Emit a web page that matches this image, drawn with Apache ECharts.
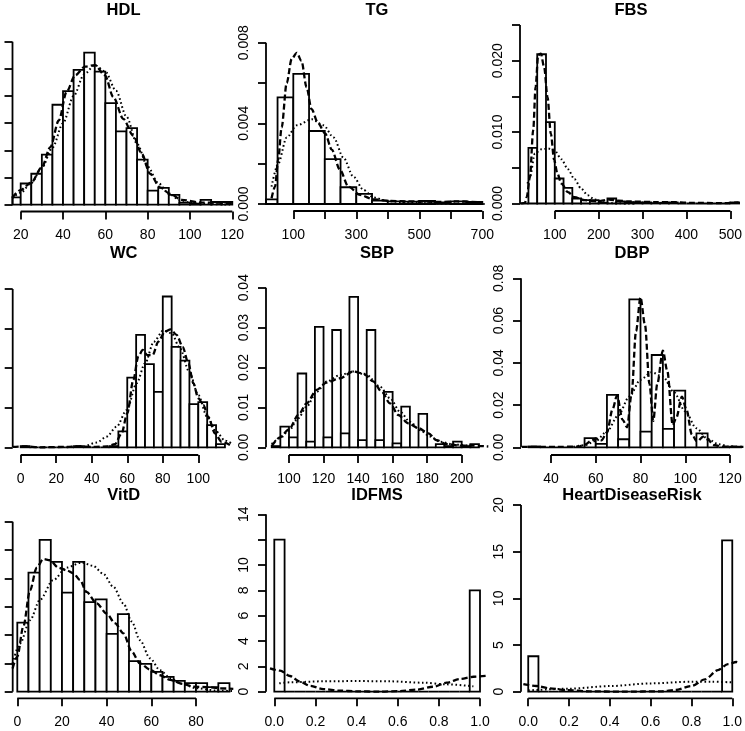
<!DOCTYPE html>
<html><head><meta charset="utf-8">
<script src="https://cdn.jsdelivr.net/npm/echarts@6/dist/echarts.min.js"></script>
<style>html,body{margin:0;padding:0;background:#fff}#c{width:745px;height:731px}</style>
</head><body><div id="c"></div>
<script>
// ---------------- DATA ----------------
// HDL
const hdlBreaks = [15,20,25,30,35,40,45,50,55,60,65,70,75,80,85,90,95,100,105,110,115,120];
const hdlDensity = [0.00135,0.0039,0.0057,0.0092,0.0184,0.0209,0.0248,0.0280,0.0245,0.0187,0.0135,0.0141,0.0083,0.0026,0.0031,0.0018,0.0004,0.0002,0.0009,0.0005,0.0005];
const hdlKde = [[16,0.0013],[20,0.0027],[25,0.0041],[30,0.0069],[34,0.0106],[38,0.0155],[41.7,0.0208],[45.7,0.0238],[50.4,0.0254],[55.1,0.0257],[59.8,0.0238],[63.8,0.0198],[68.5,0.0158],[73.2,0.0127],[77.2,0.0094],[81.1,0.0057],[85.8,0.0032],[90.6,0.0020],[96.1,0.0009],[104.7,0.0004],[112.6,0.0004],[120.5,0.0002]];
const hdlNormal = [[16,0.0012],[20,0.0022],[25,0.0040],[30,0.0068],[35,0.0105],[40,0.0150],[45,0.0200],[50,0.0240],[55,0.0257],[60,0.0245],[65,0.0210],[70,0.0162],[75,0.0112],[80,0.0070],[85,0.0040],[90,0.0020],[95,0.0009],[100,0.0004],[110,0.0001],[120,0.0]];
const hdlXTicks = [20,40,60,80,100,120];
const hdlYTicks = [0,0.005,0.01,0.015,0.02,0.025,0.03];
const hdlYLabels = [];

// TG
const tgBreaks = [0,50,100,150,200,250,300,350,400,450,500,550,600,650,700];
const tgDensity = [0.00023,0.00529,0.00645,0.00362,0.00223,0.00083,0.0005,0.00017,0.00013,0.00012,0.00015,0.00008,0.00013,0.0001];
const tgKde = [[31,0.00028],[42,0.00086],[52,0.0022],[63,0.0038],[79,0.0060],[95,0.0072],[111,0.0075],[126,0.0071],[142,0.0058],[158,0.0047],[179,0.0040],[201,0.0035],[222,0.0027],[248,0.0017],[275,0.00086],[312,0.00045],[354,0.00023],[407,0.00015],[460,0.00013],[513,0.00012],[566,0.0001],[619,0.00013],[700,0.00008]];
const tgNormal = [[31,0.00086],[52,0.0020],[79,0.0033],[111,0.0039],[159,0.0042],[196,0.0039],[228,0.0033],[259,0.0023],[291,0.00135],[323,0.0007],[354,0.00033],[397,0.00015],[460,0.00007],[566,0.00003],[714,0]];
const tgXTicks = [100,200,300,400,500,600,700];
const tgXLabels = [100,300,500,700];
const tgYTicks = [0,0.002,0.004,0.006,0.008];
const tgYLabels = [0,0.004,0.008];

// FBS
const fbsBreaks = [20,40,60,80,100,120,140,160,180,200,220,240,260,280,300,320,340,360,380,400,420,440,460,480,500,520];
const fbsDensity = [0,0.0078,0.0209,0.0114,0.0035,0.0022,0.0007,0.00046,0.00046,0.0001,0.0007,0.0003,0.0002,0.00015,0.00015,0.00005,0.0001,0.00015,0,0,0,0,0,0,0.00015];
const fbsKde = [[23,0],[32,0.0001],[36,0.0009],[43.4,0.0037],[50.9,0.0103],[56.3,0.0163],[62.2,0.0208],[68.3,0.0210],[75.8,0.0191],[83.5,0.0149],[91,0.0098],[98.5,0.0061],[106,0.0042],[115,0.0028],[130,0.0016],[145,0.0009],[168,0.00046],[198,0.0003],[224,0.00056],[245,0.0004],[270,0.00028],[330,0.0002],[368,0.0002],[406,0.0001],[481,0.00005],[519,0.00014]];
const fbsNormal = [[38,0.0028],[43.4,0.0037],[54.7,0.0070],[69.8,0.0076],[84.8,0.0077],[100,0.0074],[115,0.0062],[130,0.0048],[145,0.0034],[160,0.0021],[175,0.00116],[191,0.00056],[209,0.00018],[236,0.00003],[280,0]];
const fbsXTicks = [100,200,300,400,500];
const fbsYTicks = [0,0.005,0.01,0.015,0.02,0.025];
const fbsYLabels = [0,0.01,0.02];

// WC
const wcBreaks = [0,5,10,15,20,25,30,35,40,45,50,55,60,65,70,75,80,85,90,95,100,105,110,115];
const wcDensity = [0.0003,0,0,0,0,0,0.0003,0,0,0,0.0003,0.0040,0.0176,0.0284,0.0210,0.0140,0.0381,0.0254,0.0219,0.0109,0.0114,0.0056,0.0008];
const wcKde = [[-4.5,0.0001],[2.4,0.00025],[10.9,0],[25.9,0.0001],[32.5,0.00025],[40.9,0.0001],[48.4,0.0002],[53.1,0.0008],[56.8,0.0035],[60,0.0086],[63.4,0.0170],[66.2,0.0229],[68.7,0.0246],[71.3,0.0233],[74.3,0.0233],[77.5,0.0267],[81.2,0.0292],[84.4,0.0298],[87.8,0.0284],[91.2,0.0254],[94.4,0.0212],[97.2,0.0162],[100,0.0124],[102.8,0.0107],[105.6,0.0077],[109.4,0.0035],[113.1,0.0014],[117.8,0.0006]];
const wcNormal = [[25.9,0],[35.3,0.00025],[42.8,0.0012],[48.4,0.0027],[54,0.0052],[59.7,0.0094],[65.3,0.0162],[70,0.0212],[75,0.0267],[80.3,0.0295],[85,0.0288],[89.7,0.0250],[94.9,0.0191],[100,0.0132],[105,0.0077],[110,0.0040],[115,0.0017],[119.7,0.0007]];
const wcXTicks = [0,20,40,60,80,100];
const wcYTicks = [0,0.01,0.02,0.03,0.04];
const wcYLabels = [];

// SBP
const sbpBreaks = [90,95,100,105,110,115,120,125,130,135,140,145,150,155,160,165,170,175,180,185,190,195,200,205,210];
const sbpDensity = [0.0003,0.0052,0.0025,0.0185,0.0014,0.0302,0.0025,0.0294,0.0035,0.0377,0.0018,0.0294,0.0018,0.0139,0.0010,0.0102,0,0.0084,0,0.0008,0.0003,0.0014,0.0003,0.0008];
const sbpKde = [[90,0.0003],[94.8,0.0025],[100,0.0045],[105.4,0.0081],[110.2,0.0110],[116,0.0144],[121.8,0.0162],[129.5,0.0173],[137.3,0.0190],[143,0.0185],[148.8,0.0165],[153.7,0.0139],[158.5,0.0110],[163.3,0.0081],[169.1,0.0060],[174.9,0.0048],[180.7,0.0035],[185.5,0.0018],[191.3,0.0008],[199,0.0004],[206.8,0.0004],[215.4,0.0002]];
const sbpNormal = [[90,0.0008],[94.8,0.0023],[100,0.0042],[105.4,0.0073],[110.2,0.0102],[116,0.0139],[121.8,0.0165],[129.5,0.0181],[137.3,0.0190],[145,0.0181],[152.7,0.0152],[158.5,0.0123],[164.3,0.0089],[170,0.0064],[175.9,0.0043],[181.7,0.0027],[187.5,0.0014],[195.2,0.0007],[206.8,0.0003]];
const sbpXTicks = [100,120,140,160,180,200];
const sbpYTicks = [0,0.01,0.02,0.03,0.04];
const sbpYLabels = [0,0.01,0.02,0.03,0.04];

// DBP
const dbpBreaks = [30,35,40,45,50,55,60,65,70,75,80,85,90,95,100,105,110,115,120,125];
const dbpDensity = [0.0004,0,0,0,0,0.0043,0.0016,0.0248,0.0038,0.0700,0.0074,0.0437,0.0087,0.0268,0,0.0066,0,0,0.0003];
const dbpKde = [[27,0.0002],[42.5,0.0002],[52,0.0003],[55,0.0012],[58,0.003],[60,0.0042],[62.5,0.0033],[65,0.007],[67.5,0.018],[69.5,0.0245],[72,0.013],[74,0.0095],[76,0.025],[78,0.055],[80,0.0710],[82,0.058],[84,0.030],[85.7,0.0125],[87.5,0.030],[90,0.0458],[92,0.036],[94.4,0.0105],[96,0.014],[98.5,0.024],[100.5,0.018],[103,0.006],[105.2,0.0027],[108,0.005],[110,0.0038],[112.6,0.0011],[117,0.0003],[126,0.0002]];
const dbpNormal = [[50,0.0002],[55,0.0010],[60,0.0030],[65,0.0075],[70,0.0150],[75,0.0240],[80,0.0320],[85,0.0355],[90,0.0335],[95,0.0260],[100,0.0170],[105,0.0090],[110,0.0040],[115,0.0014],[120,0.0004],[125,0.0001]];
const dbpXTicks = [40,60,80,100,120];
const dbpYTicks = [0,0.02,0.04,0.06,0.08];
const dbpYLabels = [0,0.02,0.04,0.06,0.08];

// VitD
const vitdBreaks = [0,5,10,15,20,25,30,35,40,45,50,55,60,65,70,75,80,85,90,95];
const vitdDensity = [0.0122,0.0210,0.0268,0.0229,0.0175,0.0229,0.0158,0.0163,0.0102,0.0137,0.0054,0.0049,0.0035,0.0026,0.0019,0.0015,0.0015,0.0008,0.0015];
const vitdKde = [[-2.1,0.0041],[0,0.0062],[2.7,0.0115],[5.7,0.0179],[8.7,0.0219],[11.6,0.0234],[14.6,0.0232],[18.4,0.0219],[22.1,0.0214],[25.1,0.0209],[28.1,0.0197],[31,0.0176],[35.5,0.0156],[40,0.0138],[43.7,0.0121],[47.5,0.0103],[51.2,0.0071],[54.9,0.0050],[59.4,0.0039],[63.9,0.0029],[68.4,0.0021],[73.6,0.0014],[78.8,0.0009],[84.8,0.0008],[90.7,0.0006],[96.7,0.0005]];
const vitdNormal = [[-2.1,0.0050],[1.2,0.0085],[5.7,0.0126],[10.1,0.0162],[16.1,0.0197],[22.1,0.0219],[28.8,0.0228],[34,0.0222],[38.5,0.0208],[43,0.0185],[47.5,0.0156],[51.2,0.0124],[54.9,0.0091],[59.4,0.0059],[63.9,0.0038],[68.4,0.0024],[73.6,0.0014],[80.3,0.0006],[89.3,0.0002],[96.7,0.0001]];
const vitdXTicks = [0,20,40,60,80];
const vitdYTicks = [0,0.005,0.01,0.015,0.02,0.025,0.03];
const vitdYLabels = [];

// IDFMS
const idfmsBreaks = [0,0.05,0.1,0.15,0.2,0.25,0.3,0.35,0.4,0.45,0.5,0.55,0.6,0.65,0.7,0.75,0.8,0.85,0.9,0.95,1.0];
const idfmsDensity = [12,0,0,0,0,0,0,0,0,0,0,0,0,0,0,0,0,0,0,8];
const idfmsKde = [[-0.021,1.84],[0.028,1.66],[0.076,1.24],[0.125,0.79],[0.173,0.47],[0.238,0.21],[0.319,0.08],[0.4,0.03],[0.514,0],[0.611,0.05],[0.692,0.16],[0.773,0.39],[0.838,0.71],[0.903,1.0],[0.968,1.18],[1.04,1.26]];
const idfmsNormal = [[0.024,0.66],[0.076,0.74],[0.238,0.82],[0.4,0.84],[0.562,0.82],[0.724,0.71],[0.838,0.58],[0.968,0.42]];
const idfmsXTicks = [0,0.2,0.4,0.6,0.8,1.0];
const idfmsYTicks = [0,2,4,6,8,10,12,14];
const idfmsYLabels = [0,2,4,6,8,10,14];

// HeartDiseaseRisk
const hdrBreaks = [0,0.05,0.1,0.15,0.2,0.25,0.3,0.35,0.4,0.45,0.5,0.55,0.6,0.65,0.7,0.75,0.8,0.85,0.9,0.95,1.0];
const hdrDensity = [3.8,0,0,0,0,0,0,0,0,0,0,0,0,0,0,0,0,0,0,16.2];
const hdrKde = [[-0.024,0.82],[0.04,0.61],[0.105,0.36],[0.186,0.18],[0.3,0.04],[0.461,0],[0.655,0.04],[0.72,0.18],[0.8,0.61],[0.866,1.32],[0.93,2.32],[0.979,2.96],[1.02,3.18],[1.036,3.07]];
const hdrNormal = [[0,0.14],[0.2,0.32],[0.4,0.6],[0.6,0.89],[0.8,1.07],[0.9,1.07],[1.0,1.0]];
const hdrXTicks = [0,0.2,0.4,0.6,0.8,1.0];
const hdrYTicks = [0,5,10,15,20];
const hdrYLabels = [0,5,10,15,20];

// ---------------- PANELS ----------------
const panels = [
  {title:'HDL', breaks:hdlBreaks, dens:hdlDensity, kde:hdlKde, norm:hdlNormal, xTicks:hdlXTicks, xLabels:hdlXTicks, yTicks:hdlYTicks, yLabels:hdlYLabels, xDec:0, yDec:3},
  {title:'TG', breaks:tgBreaks, dens:tgDensity, kde:tgKde, norm:tgNormal, xTicks:tgXTicks, xLabels:tgXLabels, yTicks:tgYTicks, yLabels:tgYLabels, xDec:0, yDec:3},
  {title:'FBS', breaks:fbsBreaks, dens:fbsDensity, kde:fbsKde, norm:fbsNormal, xTicks:fbsXTicks, xLabels:fbsXTicks, yTicks:fbsYTicks, yLabels:fbsYLabels, xDec:0, yDec:3},
  {title:'WC', breaks:wcBreaks, dens:wcDensity, kde:wcKde, norm:wcNormal, xTicks:wcXTicks, xLabels:wcXTicks, yTicks:wcYTicks, yLabels:wcYLabels, xDec:0, yDec:2},
  {title:'SBP', breaks:sbpBreaks, dens:sbpDensity, kde:sbpKde, norm:sbpNormal, xTicks:sbpXTicks, xLabels:sbpXTicks, yTicks:sbpYTicks, yLabels:sbpYLabels, xDec:0, yDec:2},
  {title:'DBP', breaks:dbpBreaks, dens:dbpDensity, kde:dbpKde, norm:dbpNormal, xTicks:dbpXTicks, xLabels:dbpXTicks, yTicks:dbpYTicks, yLabels:dbpYLabels, xDec:0, yDec:2},
  {title:'VitD', breaks:vitdBreaks, dens:vitdDensity, kde:vitdKde, norm:vitdNormal, xTicks:vitdXTicks, xLabels:vitdXTicks, yTicks:vitdYTicks, yLabels:vitdYLabels, xDec:0, yDec:3},
  {title:'IDFMS', breaks:idfmsBreaks, dens:idfmsDensity, kde:idfmsKde, norm:idfmsNormal, xTicks:idfmsXTicks, xLabels:idfmsXTicks, yTicks:idfmsYTicks, yLabels:idfmsYLabels, xDec:1, yDec:0},
  {title:'HeartDiseaseRisk', breaks:hdrBreaks, dens:hdrDensity, kde:hdrKde, norm:hdrNormal, xTicks:hdrXTicks, xLabels:hdrXTicks, yTicks:hdrYTicks, yLabels:hdrYLabels, xDec:1, yDec:0}
];

// ---------------- LAYOUT (pixels) ----------------
const W = 222;
const layout = [
  {left:12.5, axisY:211.5, base:204.7, topTickY:41.7, xa:[20,20.7],  xb:[120,232.3], titleY:10},
  {left:266,  axisY:211,   base:204,   topTickY:42.7, xa:[100,293.3], xb:[700,482.3], titleY:10},
  {left:520,  axisY:211,   base:203.5, topTickY:25,   xa:[100,555],  xb:[500,731.7], titleY:10},
  {left:12.7, axisY:455,   base:447.3, topTickY:289,  xa:[0,20.7],   xb:[100,198.3], titleY:253},
  {left:266,  axisY:455,   base:447.3, topTickY:287.7,xa:[100,289],  xb:[200,461.7], titleY:253},
  {left:521,  axisY:455,   base:447.3, topTickY:278.3,xa:[40,551],   xb:[120,730],   titleY:253},
  {left:12.7, axisY:698.3, base:691.7, topTickY:521.7,xa:[0,17.3],   xb:[80,196],    titleY:495.5},
  {left:266,  axisY:698.3, base:691.7, topTickY:514.3,xa:[0,274.3],  xb:[1,480],     titleY:495.5},
  {left:521,  axisY:698.3, base:691.7, topTickY:505,  xa:[0,528.3],  xb:[1,734.3],   titleY:495.5}
];

const FONT = '"Liberation Sans", Arial, Helvetica, sans-serif';
const AXW = 1.8, BARW = 1.8, TICK = 8;

function renderHist(params, api) {
  const cs = params.coordSys;
  const a = api.coord([api.value(0), 0]);
  const b = api.coord([api.value(1), api.value(2)]);
  const x0 = Math.max(a[0], cs.x), x1 = Math.min(b[0], cs.x + cs.width);
  if (x1 <= x0) return null;
  return {type:'rect', shape:{x:x0, y:b[1], width:x1 - x0, height:a[1] - b[1]},
          style:{fill:'#fff', stroke:'#000', lineWidth:BARW}};
}

const grids = [], xAxes = [], yAxes = [], series = [], graphics = [];
panels.forEach((p, i) => {
  const L = layout[i];
  const topVal = p.yTicks[p.yTicks.length - 1];
  const vpp = topVal / (L.base - L.topTickY);
  const gTop = L.topTickY - 4;
  const yMin = -(L.axisY - L.base) * vpp;
  const yMax = topVal + 4 * vpp;
  const ppu = (L.xb[1] - L.xa[1]) / (L.xb[0] - L.xa[0]);
  const xMin = L.xa[0] - (L.xa[1] - L.left) / ppu;
  const xMax = xMin + W / ppu;
  grids.push({left:L.left, top:gTop, width:W, height:L.axisY - gTop});
  xAxes.push({type:'value', gridIndex:i, min:xMin, max:xMax,
    axisLine:{show:false, onZero:false}, splitLine:{show:false},
    axisTick:{show:true, inside:false, length:TICK, customValues:p.xTicks, lineStyle:{color:'#000', width:AXW}},
    axisLabel:{show:true, customValues:p.xLabels, margin:17, color:'#000', fontSize:14, fontFamily:FONT,
      formatter:(v) => Number(v).toFixed(p.xDec)}});
  const yLab = {show:p.yLabels.length > 0, rotate:90, margin:15, color:'#000', fontSize:14, fontFamily:FONT,
      formatter:(v) => Number(v).toFixed(p.yDec)};
  if (p.yLabels.length) yLab.customValues = p.yLabels;
  yAxes.push({type:'value', gridIndex:i, min:yMin, max:yMax,
    axisLine:{show:false, onZero:false}, splitLine:{show:false},
    axisTick:{show:true, inside:false, length:TICK, customValues:p.yTicks, lineStyle:{color:'#000', width:AXW}},
    axisLabel:yLab});
  series.push({type:'custom', xAxisIndex:i, yAxisIndex:i, silent:true, z:2,
    data:p.dens.map((d, k) => [p.breaks[k], p.breaks[k + 1], d]), renderItem:renderHist});
  series.push({type:'line', xAxisIndex:i, yAxisIndex:i, silent:true, z:3, data:p.norm, symbol:'none',
    smooth:0.3, smoothMonotone:'x', lineStyle:{color:'#000', width:2, type:[1.6, 2.6]}});
  series.push({type:'line', xAxisIndex:i, yAxisIndex:i, silent:true, z:4, data:p.kde, symbol:'none',
    smooth:0.3, smoothMonotone:'x', lineStyle:{color:'#000', width:2.3, type:[6, 3]}});
  series.push({type:'line', xAxisIndex:i, yAxisIndex:i, silent:true, z:5, clip:false, symbol:'none',
    data:[[p.xTicks[0], yMin], [p.xTicks[p.xTicks.length - 1], yMin]], lineStyle:{color:'#000', width:AXW}});
  series.push({type:'line', xAxisIndex:i, yAxisIndex:i, silent:true, z:5, clip:false, symbol:'none',
    data:[[xMin, 0], [xMin, topVal]], lineStyle:{color:'#000', width:AXW}});
  graphics.push({type:'text', x:L.left + W / 2, y:L.titleY,
    style:{text:p.title, font:'bold 16.5px ' + FONT, fill:'#000', align:'center', verticalAlign:'middle',
      textAlign:'center', textVerticalAlign:'middle'}});
});

const chart = echarts.init(document.getElementById('c'), null, {renderer:'canvas'});
chart.setOption({animation:false, backgroundColor:'#fff', grid:grids, xAxis:xAxes, yAxis:yAxes, series:series, graphic:graphics});
</script></body></html>
